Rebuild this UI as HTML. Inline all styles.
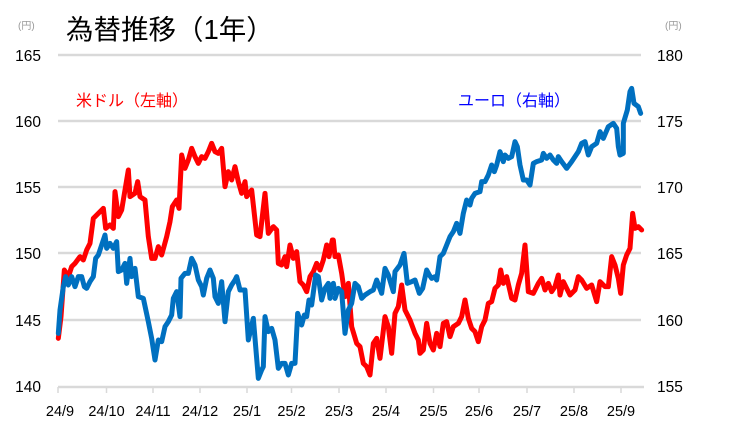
<!DOCTYPE html>
<html><head><meta charset="utf-8"><style>
html,body{margin:0;padding:0;background:#fff;}
body{width:729px;height:433px;overflow:hidden;}
text{font-family:"Liberation Sans","Noto Sans CJK JP",sans-serif;}
</style></head><body>
<svg width="729" height="433" viewBox="0 0 729 433" xmlns="http://www.w3.org/2000/svg">
<g stroke="#d9d9d9" stroke-width="2.5">
<line x1="58" y1="55" x2="641" y2="55"/><line x1="58" y1="121" x2="641" y2="121"/>
<line x1="58" y1="187" x2="641" y2="187"/><line x1="58" y1="253" x2="641" y2="253"/>
<line x1="58" y1="320" x2="641" y2="320"/><line x1="58" y1="387" x2="644" y2="387"/>
</g>
<g stroke="#d9d9d9" stroke-width="1.5">
<line x1="58" y1="387" x2="58" y2="393"/><line x1="106.5" y1="387" x2="106.5" y2="393"/><line x1="153" y1="387" x2="153" y2="393"/><line x1="200" y1="387" x2="200" y2="393"/><line x1="247" y1="387" x2="247" y2="393"/><line x1="291.5" y1="387" x2="291.5" y2="393"/><line x1="339" y1="387" x2="339" y2="393"/><line x1="386" y1="387" x2="386" y2="393"/><line x1="433.5" y1="387" x2="433.5" y2="393"/><line x1="479" y1="387" x2="479" y2="393"/><line x1="527" y1="387" x2="527" y2="393"/><line x1="574" y1="387" x2="574" y2="393"/><line x1="621" y1="387" x2="621" y2="393"/>
</g>
<g font-size="15.5" fill="#000" text-anchor="end">
<text x="41" y="61">165</text><text x="41" y="127">160</text><text x="41" y="193">155</text><text x="41" y="259">150</text><text x="41" y="326">145</text><text x="41" y="392">140</text>
</g>
<g font-size="15.5" fill="#000">
<text x="657" y="61">180</text><text x="657" y="127">175</text><text x="657" y="193">170</text><text x="657" y="259">165</text><text x="657" y="326">160</text><text x="657" y="392">155</text>
</g>
<g font-size="14.5" fill="#000" text-anchor="middle">
<text x="60" y="416">24/9</text><text x="106.5" y="416">24/10</text><text x="153" y="416">24/11</text><text x="200" y="416">24/12</text><text x="247" y="416">25/1</text><text x="291.5" y="416">25/2</text><text x="339" y="416">25/3</text><text x="386" y="416">25/4</text><text x="433.5" y="416">25/5</text><text x="479" y="416">25/6</text><text x="527" y="416">25/7</text><text x="574" y="416">25/8</text><text x="621" y="416">25/9</text>
</g>
<text x="18" y="29" font-size="10" fill="#999">(円)</text>
<text x="665" y="29" font-size="10" fill="#999">(円)</text>
<text x="66" y="39" font-size="27.5" fill="#000">為替推移（1年）</text>
<text x="76" y="106" font-size="16" fill="#ff0000">米ドル（左軸）</text>
<text x="458" y="106" font-size="16" fill="#0000ff">ユーロ（右軸）</text>
<g fill="none" stroke-width="5" stroke-linejoin="round" stroke-linecap="round">
<g transform="translate(55,130) scale(0.33333)">
<polyline vector-effect="non-scaling-stroke" stroke="#ff0000" points="10,625 18,560 28,420 40,440 50,410 60,400 75,380 85,390 95,360 105,340 115,265 130,250 145,235 152,295 165,285 175,295 180,185 190,260 200,240 210,180 220,120 225,200 240,190 248,155 255,200 270,210 280,320 290,385 300,385 310,350 320,375 335,320 345,275 352,230 365,210 372,235 380,75 390,115 400,90 410,55 420,80 430,100 440,80 450,85 460,65 470,40 480,65 490,70 500,55 510,170 520,125 530,150 540,110 550,155 560,190 570,155 575,200 590,180 605,315 615,320 630,190 640,310 655,290 665,300 670,400 680,405 690,380 695,410 705,345 715,385 725,365 735,455 745,465 755,485 765,440 775,425 785,400 795,420 805,390 815,345 822,380 832,330"/>
<polyline vector-effect="non-scaling-stroke" stroke="#0070c0" points="10,610 15,540 25,470 32,440 40,465 50,440 60,470 70,440 80,440 88,470 95,475 105,455 115,440 122,385 130,375 140,345 150,315 155,355 165,340 175,355 185,335 190,425 200,420 210,400 215,460 225,385 230,440 240,415 250,500 265,505 280,575 290,625 300,690 310,630 320,635 330,590 340,575 350,555 355,505 365,485 375,560 378,445 390,430 400,430 410,385 420,405 430,450 440,470 445,495 455,445 465,420 475,445 480,500 490,520 500,455 510,575 520,485 530,465 540,450 545,440 555,480 570,480 580,630 595,565 610,745 620,720 625,710 630,560 640,605 650,595 660,630 670,715 680,700 690,700 700,735 710,700 720,700 728,550 740,585 748,555 755,560 762,510 770,525 782,435 790,440 800,510 810,475 820,460 825,505 835,460 840,490"/>
</g>
<g transform="translate(330,80) scale(0.33333)">
<polyline vector-effect="non-scaling-stroke" stroke="#ff0000" points="10,480 15,530 25,525 35,580 45,650 55,610 65,740 80,790 90,800 100,850 110,860 120,885 130,790 140,775 150,835 165,710 175,740 185,820 195,700 205,680 215,615 225,690 240,720 255,760 265,780 270,820 280,810 290,730 300,790 310,810 320,760 330,800 340,730 350,725 360,770 370,740 385,730 395,710 405,660 415,715 425,745 435,755 445,785 455,740 465,720 475,670 485,665 495,625 505,615 512,570 520,610 530,590 545,655 555,660 565,615 575,580 585,495 595,635 610,640 625,610 635,595 645,630 655,610 665,635 675,620 685,585 690,645 700,605 710,625 720,645 735,630 745,590 755,600 770,625 785,615 800,665 810,605 825,620 835,620 845,530 855,555 865,595 872,640 880,555 890,525 900,505 908,400 915,445 925,440 935,450"/>
<polyline vector-effect="non-scaling-stroke" stroke="#0070c0" points="15,655 25,625 35,635 45,760 55,690 65,670 75,610 85,620 95,655 105,645 120,635 130,630 140,600 155,640 165,565 175,585 190,635 195,575 210,555 222,520 232,610 245,605 255,600 268,640 278,625 290,570 298,585 305,595 315,590 320,600 330,530 340,520 350,495 360,470 370,455 380,430 390,460 400,400 410,360 420,375 425,355 435,340 450,335 455,305 465,305 475,285 485,255 493,275 500,255 510,215 520,245 525,225 535,235 545,230 555,185 562,200 570,255 580,300 590,300 600,315 610,250 620,245 635,240 640,220 650,235 660,225 670,240 680,250 685,230 695,245 710,265 725,245 745,215 755,190 765,185 775,225 785,200 800,190 810,155 820,175 835,140 850,130 860,145 865,200 870,225 880,220 880,130 892,90 900,35 905,25 912,70 925,80 932,100"/>
</g>
</g>
</svg>
</body></html>
